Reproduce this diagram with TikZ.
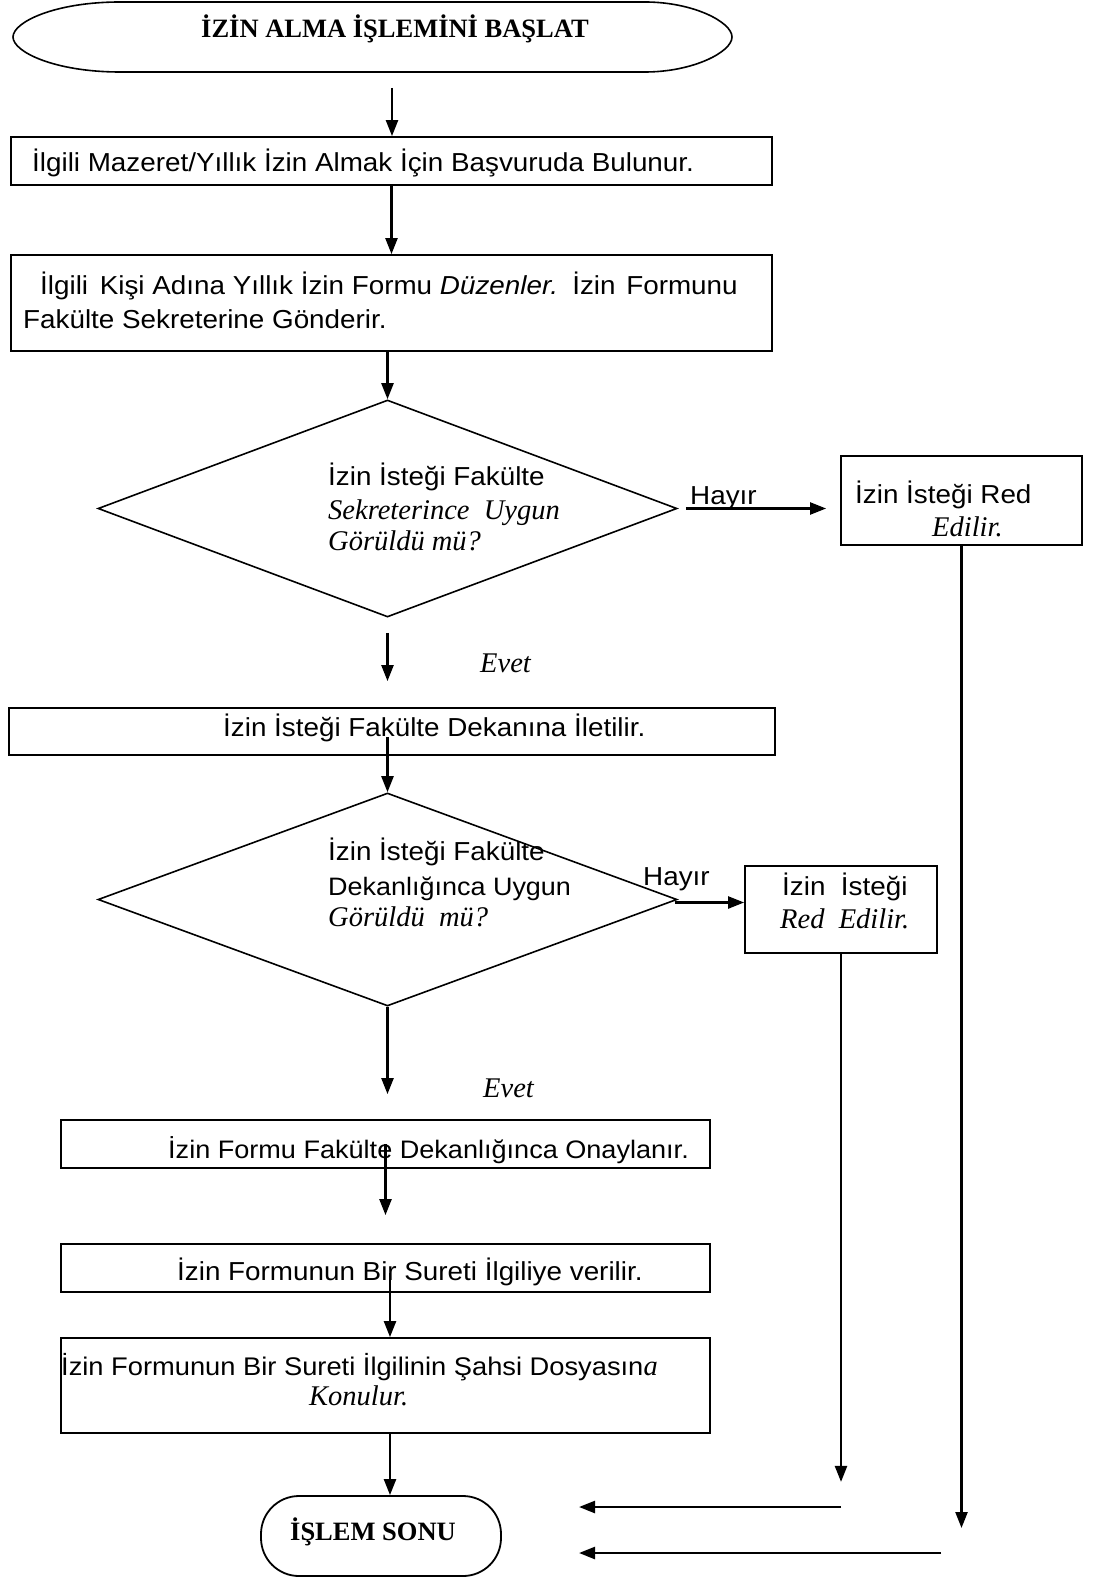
\documentclass[tikz,border=0pt]{standalone}
\usepackage{fontspec}
\setmainfont{Liberation Serif}
\newfontfamily\sansf[FakeStretch=1.07]{Liberation Sans}
\usetikzlibrary{arrows.meta,shapes.geometric,calc}

\tikzset{
  box/.style={draw, line width=1.8pt, rectangle, inner sep=0pt},
  decision/.style={draw, line width=1.6pt, diamond, inner sep=0pt},
  flow/.style={line width=2.4pt, -{Triangle[length=16pt,width=12pt]}},
  txt/.style={anchor=base west, inner sep=0pt, font=\sansf\fontsize{26}{30}\selectfont},
  itx/.style={anchor=base west, inner sep=0pt, font=\itshape\fontsize{28.5}{30}\selectfont},
  ttl/.style={anchor=base west, inner sep=0pt, font=\bfseries\fontsize{26.5}{30}\selectfont},
}

\begin{document}
\begin{tikzpicture}[x=1pt,y=-1pt]
\useasboundingbox (0,0) rectangle (1099,1578);
\fill[white] (0,0) rectangle (1099,1578);

% start terminator (elongated oval)
\node[minimum width=719pt, minimum height=70pt, inner sep=0pt] (start) at (372.5,37) {};
\draw[line width=1.6pt] (120,2) -- (645,2)
  .. controls (693,2) and (732,22) .. (732,37)
  .. controls (732,52) and (693,72) .. (645,72) -- (120,72)
  .. controls (55,72) and (13,52) .. (13,37)
  .. controls (13,22) and (55,2) .. (120,2) -- cycle;
\node[ttl, anchor=base] (ttitle) at (395,38) {İZİN ALMA İŞLEMİNİ BAŞLAT};

% process boxes and decisions
\node[box, minimum width=761pt, minimum height=48pt] (box1) at (391.5,161) {};
\node[box, minimum width=761pt, minimum height=96pt] (box2) at (391.5,303) {};
\node[decision, minimum width=579pt, minimum height=217pt] (d1) at (387.5,508.5) {};
\node[box, minimum width=241pt, minimum height=89pt] (red1) at (961.5,500.5) {};
\node[box, minimum width=766pt, minimum height=47pt] (box3) at (392,731.5) {};
\node[decision, minimum width=579pt, minimum height=213pt] (d2) at (387.5,899.5) {};
\node[box, minimum width=192pt, minimum height=87pt] (red2) at (841,909.5) {};
\node[box, minimum width=649pt, minimum height=48pt] (box4) at (385.5,1144) {};
\node[box, minimum width=649pt, minimum height=48pt] (box5) at (385.5,1268) {};
\node[box, minimum width=649pt, minimum height=95pt] (box6) at (385.5,1385.5) {};
\node[box, rounded corners=38pt, minimum width=240pt, minimum height=80pt] (end) at (381,1536) {};

% texts
\node[txt] (t1) at (32,172) {İlgili Mazeret/Yıllık İzin Almak İçin Başvuruda Bulunur.};
\node[txt] (t2a) at (40,295) {İlgili\hspace{4pt} Kişi Adına Yıllık İzin Formu \textit{Düzenler.}\hspace{4pt} İzin\hspace{3pt} Formunu};
\node[txt] (t2b) at (23,328) {Fakülte Sekreterine Gönderir.};
\node[txt] (t3a) at (328,485) {İzin İsteği Fakülte};
\node[itx] (t3b) at (328,519) {Sekreterince\ \ Uygun};
\node[itx] (t3c) at (328,550) {Görüldü mü?};
\node[txt] (h1) at (690,504) {Hayır};
\node[txt] (t4a) at (855,503) {İzin İsteği Red};
\node[itx] (t4b) at (932,536) {Edilir.};
\node[itx] (ev1) at (480,672) {Evet};
\node[txt] (t5) at (223,736) {İzin İsteği Fakülte Dekanına İletilir.};
\node[txt] (t6a) at (328,860) {İzin İsteği Fakülte};
\node[txt, font=\sansf\fontsize{25.2}{30}\selectfont] (t6b) at (328,895) {Dekanlığınca Uygun};
\node[itx] (t6c) at (328,926) {Görüldü\ \ mü?};
\node[txt] (h2) at (643,885) {Hayır};
\node[txt] (t7a) at (782,895) {İzin\ \ İsteği};
\node[itx] (t7b) at (780,928) {Red\ \ Edilir.};
\node[itx] (ev2) at (483,1097) {Evet};
\node[txt, font=\sansf\fontsize{25.3}{30}\selectfont] (t8) at (168,1158) {İzin Formu Fakülte Dekanlığınca Onaylanır.};
\node[txt] (t9) at (177,1280) {İzin Formunun Bir Sureti İlgiliye verilir.};
\node[txt, font=\sansf\fontsize{25.5}{30}\selectfont] (t10a) at (61,1375) {İzin Formunun Bir Sureti İlgilinin Şahsi Dosyasın{\rmfamily\itshape\fontsize{28.5}{30}\selectfont a}};
\node[itx] (t10b) at (309,1405) {Konulur.};
\node[ttl] (tend) at (290,1540) {İŞLEM SONU};

% free ends of connectors
\coordinate (a1s) at (392,88);
\coordinate (a6s) at (390,1273);
\coordinate (a7x) at (390,0);
\coordinate (r1e) at (961.5,1528);
\coordinate (ret1s) at (841,1507);
\coordinate (ret1e) at (579,1507);
\coordinate (ret2s) at (941,1553);
\coordinate (ret2e) at (579,1553);

% connectors
\draw[flow] (a1s) -- (a1s |- box1.north);
\draw[flow] (box1.south) -- (box2.north);
\draw[flow] (d1.north |- box2.south) -- (d1.north);
\draw[flow] ($(d1.east)+(8,0)$) -- ($(d1.east -| red1.west)+(-14,0)$);
\draw[flow] ($(d1.south)+(0,15)$) -- ($(d1.south |- box3.north)+(0,-26)$);
\draw[flow] ($(d2.north)+(0,-55)$) -- (d2.north);
\draw[flow] ($(d2.east)+(-3,3)$) -- ($(d2.east -| red2.west)+(0,3)$);
\draw[flow] (d2.south) -- ($(d2.south |- box4.north)+(0,-25)$);
\draw[flow] (box4.center) -- ($(box4.center |- box5.north)+(0,-28)$);
\draw[flow] (a6s) -- (a6s |- box6.north);
\draw[flow] (a7x |- box6.south) -- (a7x |- end.north);
\draw[flow] (red1.south) -- (r1e);
\draw[flow] (red2.south) -- ++(0,528);
\draw[flow] (ret1s) -- (ret1e);
\draw[flow] (ret2s) -- (ret2e);
\end{tikzpicture}
\end{document}
